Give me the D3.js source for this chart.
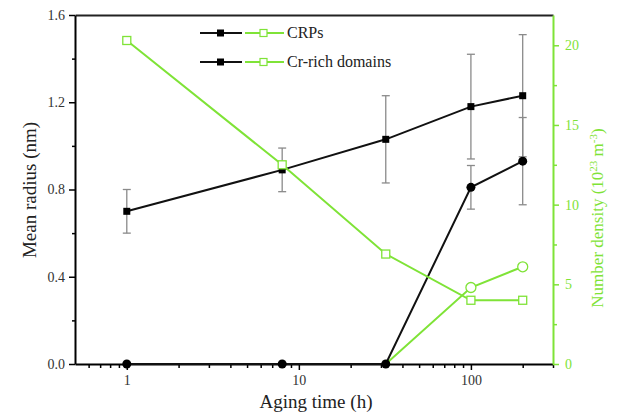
<!DOCTYPE html>
<html lang="en">
<head>
<meta charset="utf-8">
<title>Mean radius and number density vs aging time</title>
<script src="https://cdn.jsdelivr.net/npm/d3@7/dist/d3.min.js"></script>
<style>
  body { margin: 0; background: #fff; }
  text { font-family: "Liberation Serif", "DejaVu Serif", serif; }
</style>
</head>
<body>
<script>
// data
var hours = [1, 8, 32, 100, 200];
var crpRadius = [0.70, 0.89, 1.03, 1.18, 1.23];
var crpRadiusErr = [0.10, 0.10, 0.20, 0.24, 0.28];
var crRadius = [0, 0, 0, 0.81, 0.93];
var crRadiusErr = [0, 0, 0, 0.10, 0.20];
var crpDensity = [20.3, 12.5, 6.9, 4.0, 4.0];
var crDensity = [0, 0, 0, 4.8, 6.1];

var xTicks = [1, 10, 100];
var xMinor = [0.6, 0.7, 0.8, 0.9, 2, 3, 4, 5, 6, 7, 8, 9, 20, 30, 40, 50, 60, 70, 80, 90, 200, 300];
var yTicks = [0, 0.4, 0.8, 1.2, 1.6];
var yMinor = [0.2, 0.6, 1.0, 1.4];
var rTicks = [0, 5, 10, 15, 20];
var rMinor = [2.5, 7.5, 12.5, 17.5];
var legendNames = ["CRPs", "Cr-rich domains"];

var green = "#7fe337";
var W = 623, H = 415;
var L = 75, R = 553, T = 15, B = 364;

var svg = d3.select("body").append("svg").attr("width", W).attr("height", H);

var x = d3.scaleLog().domain([0.5, 300]).range([L, R]);
var yL = d3.scaleLinear().domain([0, 1.6]).range([B, T]);
var yR = d3.scaleLinear().domain([0, 21.9]).range([B, T]);

////////////////////// axes //////////////////////
function styleAxis(g, col) {
  g.select(".domain").attr("stroke", col).attr("stroke-width", 2);
  g.selectAll(".tick line").attr("stroke", col).attr("stroke-width", 1.5);
  g.selectAll(".tick text").attr("fill", col === "#000" ? "#333" : col)
    .attr("font-size", 14).attr("font-family", "Liberation Serif, serif");
}

// minor ticks first
svg.append("g").attr("transform", "translate(0," + B + ")")
  .call(d3.axisBottom(x).tickValues(xMinor).tickSize(4).tickFormat("").tickSizeOuter(0))
  .call(function (g) { g.select(".domain").remove(); g.selectAll("line").attr("stroke", "#000").attr("stroke-width", 1.5); });
svg.append("g").attr("transform", "translate(" + L + ",0)")
  .call(d3.axisLeft(yL).tickValues(yMinor).tickSize(3).tickFormat("").tickSizeOuter(0))
  .call(function (g) { g.select(".domain").remove(); g.selectAll("line").attr("stroke", "#000").attr("stroke-width", 1.5); });
svg.append("g").attr("transform", "translate(" + R + ",0)")
  .call(d3.axisRight(yR).tickValues(rMinor).tickSize(4).tickFormat("").tickSizeOuter(0))
  .call(function (g) { g.select(".domain").remove(); g.selectAll("line").attr("stroke", green).attr("stroke-width", 1.5); });

svg.append("g").attr("transform", "translate(0," + T + ")")
  .call(d3.axisTop(x).tickValues([]).tickSizeOuter(0))
  .call(function (g) { g.select(".domain").attr("stroke", "#222").attr("stroke-width", 2); });

svg.append("g").attr("transform", "translate(0," + B + ")")
  .call(d3.axisBottom(x).tickValues(xTicks).tickFormat(d3.format("d")).tickSize(6).tickPadding(5).tickSizeOuter(0))
  .call(styleAxis, "#000");

svg.append("g").attr("transform", "translate(" + L + ",0)")
  .call(d3.axisLeft(yL).tickValues(yTicks).tickFormat(d3.format(".1f")).tickSize(6).tickPadding(4).tickSizeOuter(0))
  .call(styleAxis, "#000");

svg.append("g").attr("transform", "translate(" + R + ",0)")
  .call(d3.axisRight(yR).tickValues(rTicks).tickSize(6).tickPadding(6).tickSizeOuter(0))
  .call(styleAxis, green);

////////////////////// series //////////////////////
var lineL = function (vals) {
  return d3.line().x(function (d, i) { return x(hours[i]); }).y(function (d) { return yL(d); })(vals);
};
var lineR = function (vals) {
  return d3.line().x(function (d, i) { return x(hours[i]); }).y(function (d) { return yR(d); })(vals);
};

function errorBars(vals, errs) {
  var g = svg.append("g").attr("stroke", "#8a8a8a").attr("stroke-width", 1.3);
  hours.forEach(function (h, i) {
    if (!errs[i]) return;
    var cx = x(h), y1 = yL(vals[i] + errs[i]), y2 = yL(vals[i] - errs[i]);
    g.append("line").attr("x1", cx).attr("x2", cx).attr("y1", y1).attr("y2", y2);
    g.append("line").attr("x1", cx - 4).attr("x2", cx + 4).attr("y1", y1).attr("y2", y1);
    g.append("line").attr("x1", cx - 4).attr("x2", cx + 4).attr("y1", y2).attr("y2", y2);
  });
}
errorBars(crpRadius, crpRadiusErr);
errorBars(crRadius, crRadiusErr);

// Cr-rich density (green, circles) underneath
svg.append("path").attr("d", lineR(crDensity)).attr("fill", "none").attr("stroke", green).attr("stroke-width", 2);

// radius series (black)
svg.append("path").attr("d", lineL(crpRadius)).attr("fill", "none").attr("stroke", "#111").attr("stroke-width", 2);
svg.append("path").attr("d", lineL(crRadius)).attr("fill", "none").attr("stroke", "#111").attr("stroke-width", 2);

svg.selectAll(".sq").data(crpRadius).enter().append("rect")
  .attr("x", function (d, i) { return x(hours[i]) - 3.5; })
  .attr("y", function (d) { return yL(d) - 3.5; })
  .attr("width", 7).attr("height", 7).attr("fill", "#000");

svg.selectAll(".dot").data(crRadius).enter().append("circle")
  .attr("cx", function (d, i) { return x(hours[i]); })
  .attr("cy", function (d) { return yL(d); })
  .attr("r", 4.5).attr("fill", "#000");

// CRP density (green, squares)
svg.append("path").attr("d", lineR(crpDensity)).attr("fill", "none").attr("stroke", green).attr("stroke-width", 2);
svg.selectAll(".gsq").data(crpDensity).enter().append("rect")
  .attr("x", function (d, i) { return x(hours[i]) - 4; })
  .attr("y", function (d) { return yR(d) - 4; })
  .attr("width", 8).attr("height", 8).attr("fill", "#fff").attr("stroke", green).attr("stroke-width", 1.3);

svg.selectAll(".gdot").data(hours.map(function (h, i) { return [h, crDensity[i]]; }).filter(function (d) { return d[1] > 0; }))
  .enter().append("circle")
  .attr("cx", function (d) { return x(d[0]); })
  .attr("cy", function (d) { return yR(d[1]); })
  .attr("r", 5).attr("fill", "#fff").attr("stroke", green).attr("stroke-width", 1.3);

////////////////////// legend //////////////////////
var leg = svg.append("g");
legendNames.forEach(function (name, i) {
  var ly = 33 + i * 29;
  leg.append("line").attr("x1", 200).attr("x2", 242).attr("y1", ly).attr("y2", ly).attr("stroke", "#111").attr("stroke-width", 2);
  leg.append("rect").attr("x", 217).attr("y", ly - 3.5).attr("width", 7).attr("height", 7).attr("fill", "#000");
  leg.append("line").attr("x1", 245).attr("x2", 284).attr("y1", ly).attr("y2", ly).attr("stroke", green).attr("stroke-width", 2);
  leg.append("rect").attr("x", 260).attr("y", ly - 3.5).attr("width", 7).attr("height", 7)
    .attr("fill", "#fff").attr("stroke", green).attr("stroke-width", 1.2);
  leg.append("text").attr("x", 287).attr("y", ly + 5).attr("font-size", 16).attr("fill", "#222").text(name);
});

////////////////////// titles //////////////////////
svg.append("text").attr("x", 316).attr("y", 408).attr("text-anchor", "middle")
  .attr("font-size", 19).attr("fill", "#222").text("Aging time (h)");

svg.append("text").attr("transform", "translate(36,190) rotate(-90)").attr("text-anchor", "middle")
  .attr("font-size", 19).attr("fill", "#222").text("Mean radius (nm)");

var rt = svg.append("text").attr("transform", "translate(603,218) rotate(-90)").attr("text-anchor", "middle")
  .attr("font-size", 17).attr("fill", green);
rt.append("tspan").text("Number density (10");
rt.append("tspan").attr("dy", -6).attr("font-size", 11).text("23");
rt.append("tspan").attr("dy", 6).text(" m");
rt.append("tspan").attr("dy", -6).attr("font-size", 11).text("-3");
rt.append("tspan").attr("dy", 6).text(")");
</script>
</body>
</html>
